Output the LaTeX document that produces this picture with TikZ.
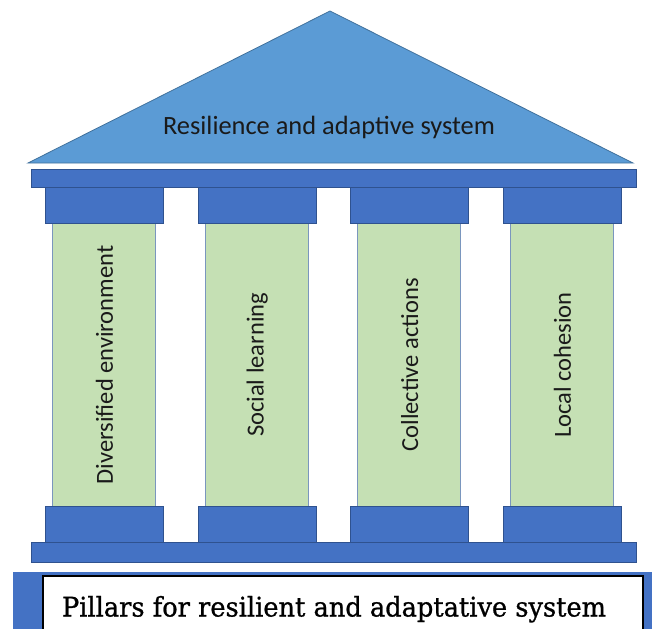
\documentclass[tikz,border=0pt]{standalone}
\usepackage{fontspec}
\setmainfont{DejaVu Serif}
\newfontfamily\captionfont{DejaVu Serif}[FakeBold=0.9]
\newfontfamily\pillarfont{Carlito}
\definecolor{roofblue}{HTML}{5B9BD5}
\definecolor{roofedge}{HTML}{41719C}
\definecolor{stoneblue}{HTML}{4472C4}
\definecolor{stoneedge}{HTML}{2F528F}
\definecolor{shaftgreen}{HTML}{C5E0B4}
\definecolor{shaftedge}{HTML}{7A96BE}
\definecolor{inktext}{HTML}{1A1A1A}
\tikzset{
  roofshape/.style={fill=roofblue, draw=roofedge, line width=0.8pt, line join=miter},
  stone/.style={rectangle, fill=stoneblue, draw=stoneedge, line width=0.8pt, inner sep=0pt, anchor=north west},
  shaftbox/.style={rectangle, fill=shaftgreen, draw=shaftedge, line width=0.8pt, inner sep=0pt, anchor=north west,
    minimum width=103pt, minimum height=283pt},
  capbox/.style={stone, minimum width=118pt, minimum height=36pt},
  beambox/.style={stone, minimum width=605pt},
  pillartext/.style={rotate=90, text=inktext, font=\pillarfont\fontsize{24.5}{30}\selectfont, inner sep=0pt},
  rooftext/.style={anchor=base, text=inktext, font=\pillarfont\fontsize{26.4}{30}\selectfont, inner sep=0pt},
  captionbox/.style={rectangle, fill=white, draw=black, line width=1.6pt, inner sep=0pt, anchor=north west,
    minimum width=600pt, minimum height=70pt},
}
\begin{document}
\begin{tikzpicture}[x=1pt, y=-1pt]
\clip (0,0) rectangle (654,629);

% roof
\coordinate (eaveL) at (28,163);
\coordinate (apex) at (330,11);
\coordinate (eaveR) at (633,163);
\draw[roofshape] (eaveL) -- (apex) -- (eaveR) -- cycle;
\node[rooftext] (rooflabel) at (329,134) {Resilience and adaptive system};

% four pillars: shaft, capital and base
\foreach \i/\txt in {0/Diversified environment, 1/Social learning, 2/Collective actions, 3/Local cohesion}{
  \pgfmathsetmacro{\xo}{152.7*\i}
  \node[shaftbox] (shaft\i) at (52+\xo,223) {};
  \node[capbox] (cap\i) at (45+\xo,187) {};
  \node[capbox] (base\i) at (45+\xo,506) {};
  \node[pillartext] (label\i) at ([xshift=0.5pt]shaft\i.center) {\txt};
}

% entablature and stylobate
\node[beambox, minimum height=18pt] (topbeam) at (31,169) {};
\node[beambox, minimum height=20pt] (bottombeam) at (31,542) {};

% caption band
\node[stone, minimum width=639pt, minimum height=70pt, draw=none] (band) at (13,572) {};
\node[captionbox] (caption) at (42,575) {};
\node[anchor=base, inner sep=0pt] (captiontext) at (334,616.5)
  {\captionfont\fontsize{27}{32}\selectfont\resizebox{544pt}{\height}{Pillars for resilient and adaptative system}};
\end{tikzpicture}
\end{document}
